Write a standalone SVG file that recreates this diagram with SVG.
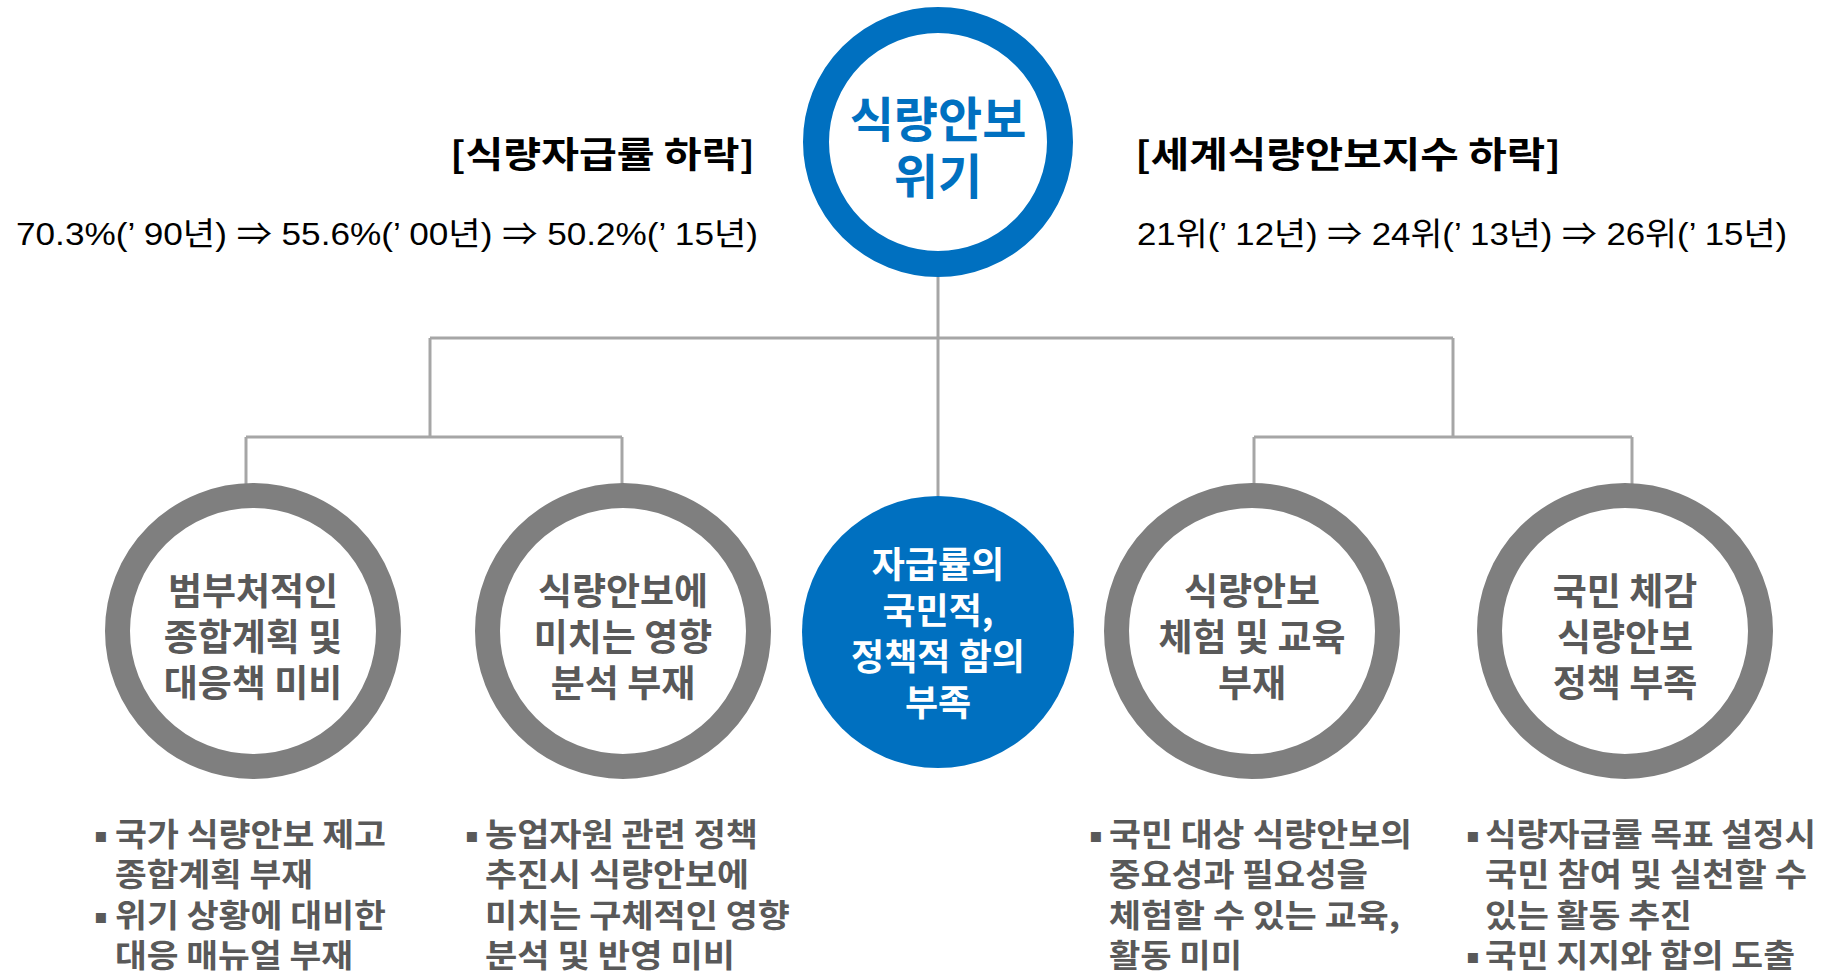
<svg xmlns="http://www.w3.org/2000/svg" width="1834" height="979" viewBox="0 0 1834 979">
<defs>
<style>
.bg{fill:#ffffff}
.conn{stroke:#A6A6A6;stroke-width:3;fill:none}
.ring{fill:#ffffff;stroke:#7F7F7F;stroke-width:25}
.ringTop{fill:#ffffff;stroke:#0070C0;stroke-width:26}
.solid{fill:#0070C0}
.ctxt{font-family:"Noto Sans CJK KR",sans-serif;font-weight:700;font-size:37px;fill:#595959;text-anchor:middle}
.wtxt{font-family:"Noto Sans CJK KR",sans-serif;font-weight:700;font-size:36px;fill:#ffffff;text-anchor:middle}
.ttxt{font-family:"Noto Sans CJK KR",sans-serif;font-weight:700;font-size:48px;fill:#0070C0;text-anchor:middle}
.head{font-family:"Noto Sans CJK KR",sans-serif;font-weight:700;font-size:36px;fill:#000000}
.data{font-family:"Liberation Sans","Noto Sans CJK KR",sans-serif;font-size:32px;fill:#000000}
.bul{font-family:"Noto Sans CJK KR",sans-serif;font-weight:700;font-size:32px;fill:#595959}
.dot{font-family:"DejaVu Sans",sans-serif;font-size:20px;fill:#595959}
</style>
</defs>
<rect class="bg" x="0" y="0" width="1834" height="979"/>

<g id="connectors">
<path class="conn" d="M938 277 V496"/>
<path class="conn" d="M430 338 H1453"/>
<path class="conn" d="M430 338 V437"/>
<path class="conn" d="M1453 338 V437"/>
<path class="conn" d="M246 437 H622"/>
<path class="conn" d="M246 437 V484"/>
<path class="conn" d="M622 437 V484"/>
<path class="conn" d="M1254 437 H1632"/>
<path class="conn" d="M1254 437 V484"/>
<path class="conn" d="M1632 437 V484"/>
</g>

<g id="node-top">
<circle class="ringTop" cx="938" cy="142" r="122"/>
<text class="ttxt" x="938" y="137">식량안보</text>
<text class="ttxt" x="938" y="194">위기</text>
</g>

<g id="label-left">
<text class="head" x="450" y="168" textLength="305" lengthAdjust="spacingAndGlyphs">[식량자급률 하락]</text>
<text class="data" x="16" y="245" textLength="742" lengthAdjust="spacingAndGlyphs">70.3%(’ 90년) ⇒ 55.6%(’ 00년) ⇒ 50.2%(’ 15년)</text>
</g>

<g id="label-right">
<text class="head" x="1135" y="168" textLength="426" lengthAdjust="spacingAndGlyphs">[세계식량안보지수 하락]</text>
<text class="data" x="1137" y="245" textLength="650" lengthAdjust="spacingAndGlyphs">21위(’ 12년) ⇒ 24위(’ 13년) ⇒ 26위(’ 15년)</text>
</g>

<g id="node-1">
<circle class="ring" cx="253" cy="631" r="135.5"/>
<text class="ctxt" x="253" y="605">범부처적인</text>
<text class="ctxt" x="253" y="651">종합계획 및</text>
<text class="ctxt" x="253" y="697">대응책 미비</text>
</g>

<g id="node-2">
<circle class="ring" cx="623" cy="631" r="135.5"/>
<text class="ctxt" x="623" y="605">식량안보에</text>
<text class="ctxt" x="623" y="651">미치는 영향</text>
<text class="ctxt" x="623" y="697">분석 부재</text>
</g>

<g id="node-center">
<circle class="solid" cx="938" cy="632" r="136"/>
<text class="wtxt" x="938" y="578">자급률의</text>
<text class="wtxt" x="938" y="624">국민적,</text>
<text class="wtxt" x="938" y="670">정책적 함의</text>
<text class="wtxt" x="938" y="716">부족</text>
</g>

<g id="node-4">
<circle class="ring" cx="1252" cy="631" r="135.5"/>
<text class="ctxt" x="1252" y="605">식량안보</text>
<text class="ctxt" x="1252" y="651">체험 및 교육</text>
<text class="ctxt" x="1252" y="697">부재</text>
</g>

<g id="node-5">
<circle class="ring" cx="1625" cy="631" r="135.5"/>
<text class="ctxt" x="1625" y="605">국민 체감</text>
<text class="ctxt" x="1625" y="651">식량안보</text>
<text class="ctxt" x="1625" y="697">정책 부족</text>
</g>

<g id="notes-1">
<text class="dot" x="94" y="842">▪</text>
<text class="bul" x="115" y="846" textLength="271" lengthAdjust="spacingAndGlyphs">국가 식량안보 제고</text>
<text class="bul" x="115" y="886" textLength="198" lengthAdjust="spacingAndGlyphs">종합계획 부재</text>
<text class="dot" x="94" y="923">▪</text>
<text class="bul" x="115" y="927" textLength="271" lengthAdjust="spacingAndGlyphs">위기 상황에 대비한</text>
<text class="bul" x="115" y="967" textLength="238" lengthAdjust="spacingAndGlyphs">대응 매뉴얼 부재</text>
</g>

<g id="notes-2">
<text class="dot" x="465" y="842">▪</text>
<text class="bul" x="485" y="846" textLength="273" lengthAdjust="spacingAndGlyphs">농업자원 관련 정책</text>
<text class="bul" x="485" y="886" textLength="264" lengthAdjust="spacingAndGlyphs">추진시 식량안보에</text>
<text class="bul" x="485" y="927" textLength="305" lengthAdjust="spacingAndGlyphs">미치는 구체적인 영향</text>
<text class="bul" x="485" y="967" textLength="250" lengthAdjust="spacingAndGlyphs">분석 및 반영 미비</text>
</g>

<g id="notes-4">
<text class="dot" x="1089" y="842">▪</text>
<text class="bul" x="1109" y="846" textLength="303" lengthAdjust="spacingAndGlyphs">국민 대상 식량안보의</text>
<text class="bul" x="1109" y="886" textLength="259" lengthAdjust="spacingAndGlyphs">중요성과 필요성을</text>
<text class="bul" x="1109" y="927" textLength="291" lengthAdjust="spacingAndGlyphs">체험할 수 있는 교육,</text>
<text class="bul" x="1109" y="967" textLength="133" lengthAdjust="spacingAndGlyphs">활동 미미</text>
</g>

<g id="notes-5">
<text class="dot" x="1466" y="842">▪</text>
<text class="bul" x="1485" y="846" textLength="331" lengthAdjust="spacingAndGlyphs">식량자급률 목표 설정시</text>
<text class="bul" x="1485" y="886" textLength="322" lengthAdjust="spacingAndGlyphs">국민 참여 및 실천할 수</text>
<text class="bul" x="1485" y="927" textLength="207" lengthAdjust="spacingAndGlyphs">있는 활동 추진</text>
<text class="dot" x="1466" y="963">▪</text>
<text class="bul" x="1485" y="967" textLength="310" lengthAdjust="spacingAndGlyphs">국민 지지와 합의 도출</text>
</g>
</svg>
